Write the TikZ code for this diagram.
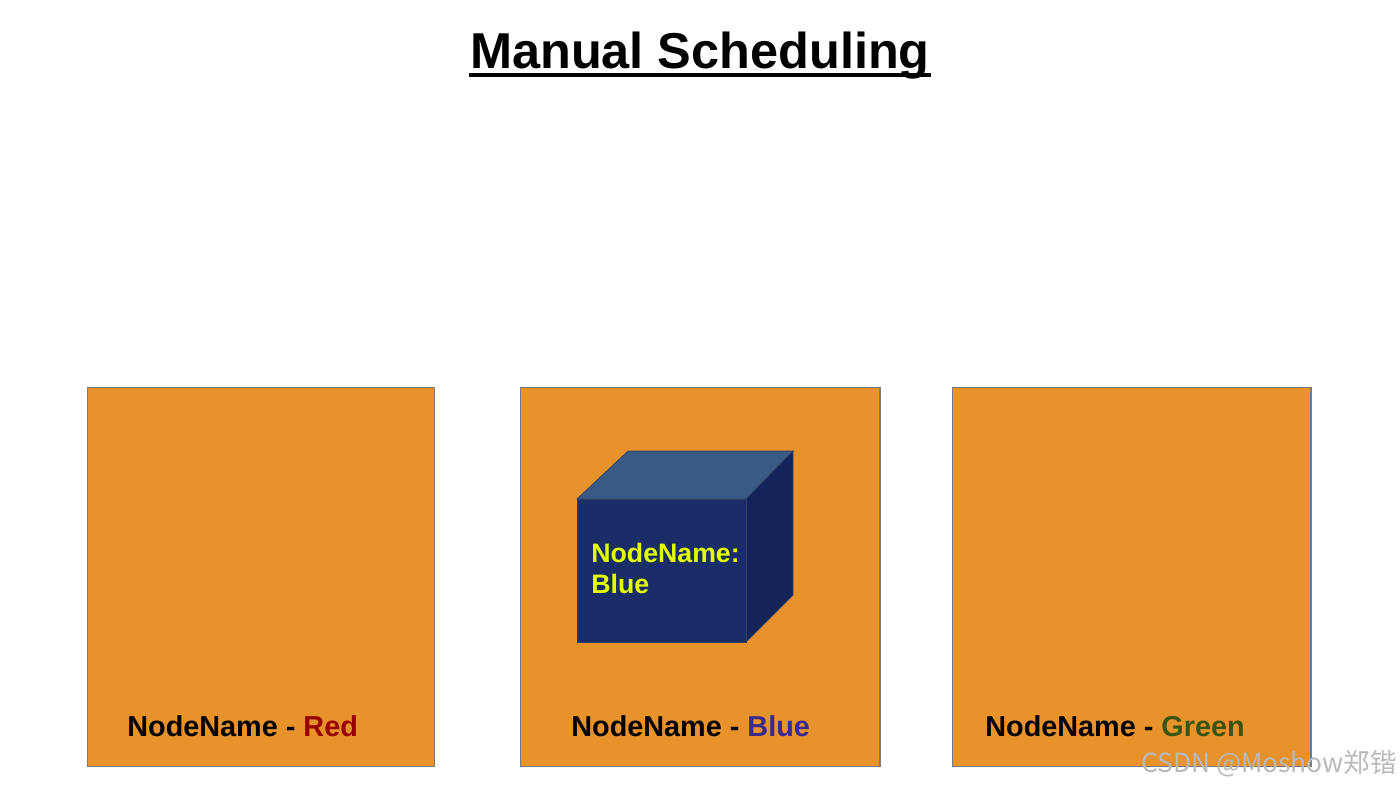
\documentclass[tikz,border=0pt]{standalone}
\usepackage{fontspec}
\setmainfont{Liberation Sans}
\newfontfamily\cjkfont{Noto Sans CJK SC}
\usetikzlibrary{positioning}
\definecolor{boxorange}{HTML}{E8922C}
\definecolor{boxedge}{HTML}{7A7A7A}
\definecolor{cubefront}{HTML}{1B2D66}
\definecolor{cubetop}{HTML}{3A5A86}
\definecolor{cubeside}{HTML}{12245A}
\definecolor{namered}{HTML}{990000}
\definecolor{nameblue}{HTML}{3A2A8C}
\definecolor{namegreen}{HTML}{3A5512}
\definecolor{cubetext}{HTML}{E2FF00}

\begin{document}
\begin{tikzpicture}[x=0.02cm, y=-0.02cm,
    nodebox/.style={rectangle, draw=boxedge, fill=boxorange, line width=0.6pt, inner sep=0pt},
    nodelabel/.style={anchor=base west, inner sep=0pt, font=\fontsize{16.4}{19}\selectfont\bfseries},
    cubelabel/.style={anchor=north west, inner sep=0pt, align=left, text=cubetext, font=\fontsize{15.2}{17.6}\selectfont\bfseries}]

    \useasboundingbox (0,0) rectangle (1400,788);

    % Title
    \node[anchor=base, inner sep=0pt, font=\fontsize{28.7}{32}\selectfont\bfseries] (title) at (700,68) {Manual Scheduling};
    \draw[line width=1.9pt] (469,75) -- (931,75);

    % Worker nodes
    \node[nodebox, minimum width=6.96cm, minimum height=7.6cm] (red) at (261,577) {};
    \node[nodebox, minimum width=7.2cm, minimum height=7.6cm] (blue) at (700,577) {};
    \node[nodebox, minimum width=7.18cm, minimum height=7.6cm] (green) at (1131.5,577) {};

    % Pod cube on the blue node
    \fill[cubetop, draw=cubeside!70!gray, line width=0.4pt] (577,499) -- (628,451) -- (793,451) -- (746,499) -- cycle;
    \fill[cubeside, draw=cubeside!70!gray, line width=0.4pt] (746,499) -- (793,451) -- (793,595) -- (746,642) -- cycle;
    \fill[cubefront, draw=cubeside!70!gray, line width=0.4pt] (577,499) rectangle (746,642);
    \node[cubelabel] (pod) at (591,543) {NodeName:\\Blue};

    % Node names
    \node[nodelabel] (redname) at (127,736) {NodeName - \textcolor{namered}{Red}};
    \node[nodelabel] (bluename) at (571,736) {NodeName - \textcolor{nameblue}{Blue}};
    \node[nodelabel] (greenname) at (985,736) {NodeName - \textcolor{namegreen}{Green}};

    % Watermark
    \node[anchor=base east, inner sep=0pt, text=gray!55, font=\cjkfont\fontsize{15}{17}\selectfont] (mark) at (1397,772) {CSDN @Moshow郑锴};
\end{tikzpicture}
\end{document}
